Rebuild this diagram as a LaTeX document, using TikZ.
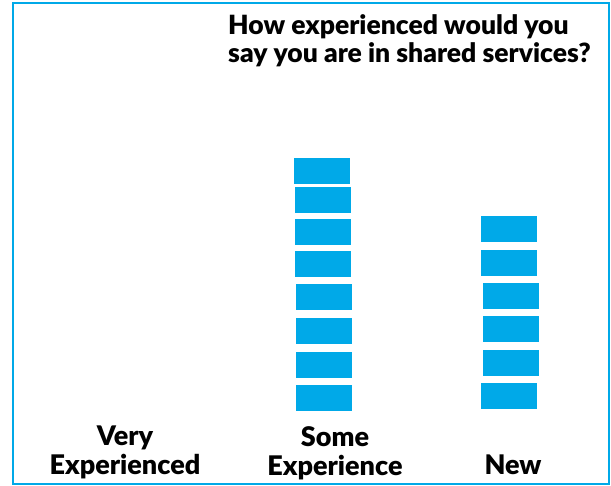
\documentclass[tikz,border=0pt]{standalone}
\usepackage{fontspec}
\setmainfont{Lato}[BoldFont={Lato Black}]
\usepackage{xcolor}
\usetikzlibrary{positioning}
\definecolor{barblue}{RGB}{0,169,232}
\tikzset{
    every picture/.style={font=\bfseries},
    every node/.style={font=\bfseries}
}

\begin{document}
\begin{tikzpicture}[
    x=1pt, y=-1pt,
    bar/.style={
        rectangle,
        fill=barblue,
        minimum width=56pt,
        minimum height=26pt,
        inner sep=0pt
    },
    title/.style={
        align=left,
        font=\fontsize{26.5}{28}\selectfont\bfseries,
        inner sep=0pt
    },
    category/.style={
        align=center,
        font=\fontsize{27}{29}\selectfont\bfseries,
        inner sep=0pt
    }
]

% Cornice
\useasboundingbox (0,0) rectangle (611,486);
\draw[barblue, line width=2pt] (13,3) rectangle (609,484);

% Titolo
\node[title, anchor=north west] (question) at (228,14) {How experienced would you\\say you are in shared services?};

% Colonna "Some Experience"
\node[bar] (some1) at (322,171) {};
\node[bar] (some2) at (323,200.5) {};
\node[bar] (some3) at (323,232.5) {};
\node[bar] (some4) at (323,264.5) {};
\node[bar] (some5) at (324,297) {};
\node[bar] (some6) at (324,331) {};
\node[bar] (some7) at (323.5,365) {};
\node[bar] (some8) at (323.5,398) {};

% Colonna "New"
\node[bar] (new1) at (509,229.5) {};
\node[bar] (new2) at (509,263.5) {};
\node[bar] (new3) at (511,296) {};
\node[bar] (new4) at (511,329.5) {};
\node[bar] (new5) at (511,363) {};
\node[bar] (new6) at (509,396.5) {};

% Categorie
\node[category] (very) at (125,452) {Very\\Experienced};
\node[category] (some) at (335,453) {Some\\Experience};
\node[category] (new) at (513,465) {New};

\end{tikzpicture}
\end{document}
